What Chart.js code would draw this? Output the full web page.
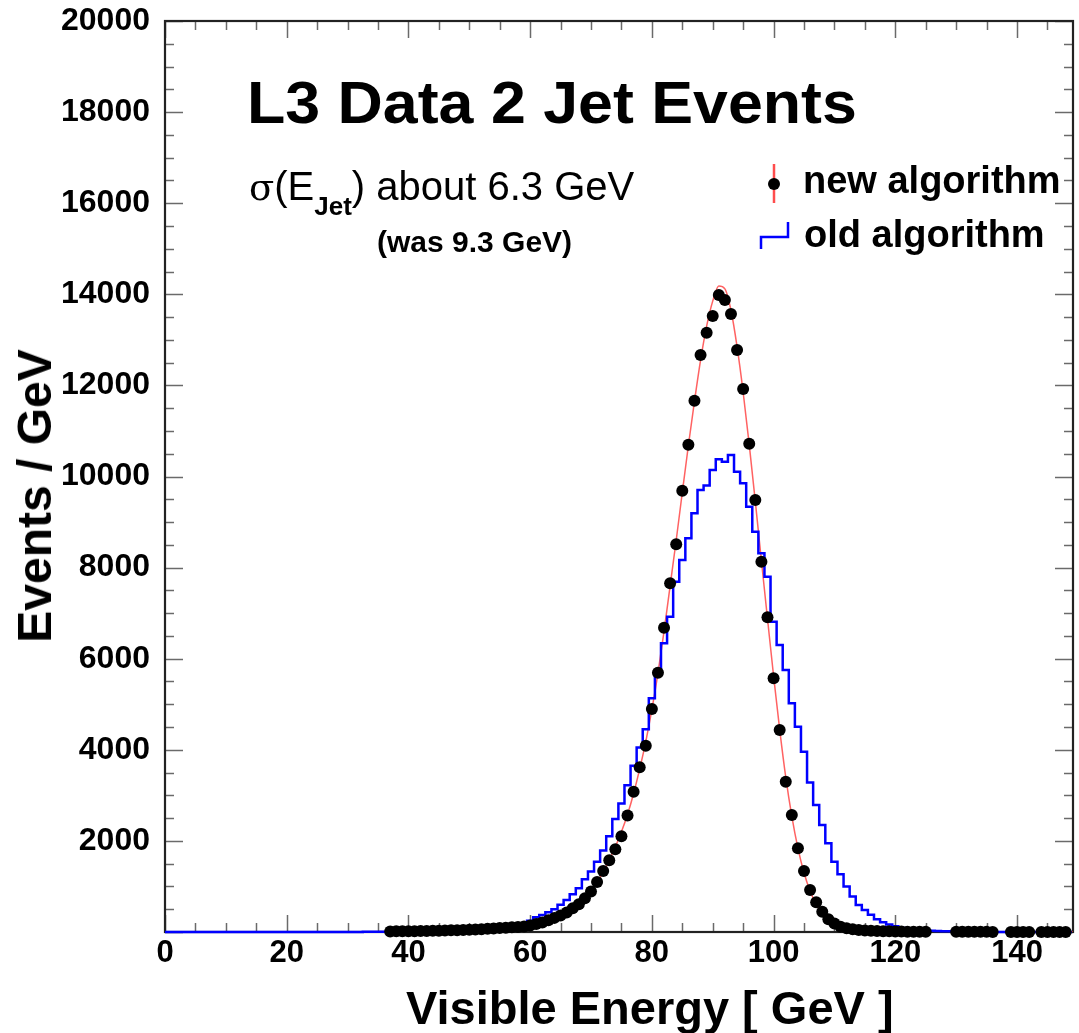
<!DOCTYPE html>
<html><head><meta charset="utf-8">
<script src="https://cdn.jsdelivr.net/npm/chart.js@4.4.0/dist/chart.umd.min.js"></script>
<style>
html,body{margin:0;padding:0;background:#fff;}
#wrap{position:relative;width:1079px;height:1033px;overflow:hidden;background:#fff;}
canvas{position:absolute;left:0;top:0;}
.t{position:absolute;white-space:nowrap;font-family:'Liberation Sans',Arial,Helvetica,sans-serif;line-height:1;color:#000;transform-origin:0 0;}
</style></head><body>
<div id="wrap">
<canvas id="c" width="1079" height="1033"></canvas>
<div class="t" style="left:247px;top:73px;font-size:60px;font-weight:bold;transform:scaleX(1.045)">L3 Data 2 Jet Events</div>
<div class="t" style="left:249px;top:166px;font-size:40px;"><span style="font-family:'DejaVu Serif',serif;font-size:37px">σ</span>(E<span style="position:relative;top:15px;font-size:26px;font-weight:bold">Jet</span>) about 6.3 GeV</div>
<div class="t" style="left:377px;top:227px;font-size:30px;font-weight:bold;">(was 9.3 GeV)</div>
<div class="t" style="left:803px;top:161px;font-size:38px;font-weight:bold;">new algorithm</div>
<div class="t" style="left:804px;top:215px;font-size:38px;font-weight:bold;">old algorithm</div>
<div class="t" style="left:35px;top:496px;font-size:48px;font-weight:bold;transform-origin:50% 50%;transform:translate(-50%,-50%) rotate(-90deg);">Events / GeV</div>
<div class="t" style="left:406px;top:984px;font-size:47px;font-weight:bold;">Visible Energy [ GeV ]</div>
</div>
<script>
// ---- data (bin centres in GeV, 1 GeV bins) ----
const energyGeV = [0,1,2,3,4,5,6,7,8,9,10,11,12,13,14,15,16,17,18,19,20,21,22,23,24,25,26,27,28,29,30,31,32,33,34,35,36,37,38,39,40,41,42,43,44,45,46,47,48,49,50,51,52,53,54,55,56,57,58,59,60,61,62,63,64,65,66,67,68,69,70,71,72,73,74,75,76,77,78,79,80,81,82,83,84,85,86,87,88,89,90,91,92,93,94,95,96,97,98,99,100,101,102,103,104,105,106,107,108,109,110,111,112,113,114,115,116,117,118,119,120,121,122,123,124,125,126,127,128,129,130,131,132,133,134,135,136,137,138,139,140,141,142,143,144,145,146,147,148,149];

// new algorithm (black points); null = empty bin
const newAlgorithm = [
 null,null,null,null,null,null,null,null,null,null,
 null,null,null,null,null,null,null,null,null,null,
 null,null,null,null,null,null,null,null,null,null,
 null,null,null,null,null,null,null,12,14,15,
 17,19,21,23,26,29,32,36,40,45,
 50,56,62,70,78,86,95,105,112,120,
 145,175,210,260,310,360,430,520,610,740,
 890,1100,1340,1575,1815,2100,2560,3080,3616,4090,
 4896,5693,6681,7655,8512,9688,10698,11664,12667,13157,
 13524,13985,13875,13568,12777,11921,10720,9484,8130,6909,
 5570,4435,3300,2569,1837,1339,922,652,446,280,
 185,117,80,60,45,35,28,22,18,14,
 12,10,8,6,5,4,null,null,null,null,
 5,4,4,3,3,3,2,null,null,2,
 2,2,2,null,2,2,1,1,1,null];

// old algorithm (blue histogram)
const oldAlgorithm = [
 0,0,0,0,0,0,0,0,0,0,
 0,0,0,0,0,0,0,0,0,0,
 0,0,0,0,0,0,0,0,0,0,
 1,2,2,3,4,5,6,8,10,12,
 14,16,18,20,22,25,28,31,35,40,
 45,52,60,68,78,90,105,125,150,190,
 249,322,373,435,500,600,700,830,960,1160,
 1330,1540,1790,2100,2480,2820,3220,3650,4050,4449,
 5130,5679,6338,6922,7691,8167,8643,9192,9704,9800,
 10143,10377,10326,10472,10106,9850,9338,8789,8313,7801,
 6813,6301,5752,5020,4508,3959,3280,2788,2349,1947,
 1544,1270,1000,780,593,483,380,280,215,165,
 125,90,70,55,45,35,28,22,18,14,
 10,8,6,5,4,3,2,2,1,1,
 1,1,1,0,0,0,0,0,0,0];

// fitted curve (red)
const fitEnergy = [0,30,40,45,50,55,58,60,61,62,63,64,65,66,67,68,69,70,71,72,73,74,75,76,77,78,79,80,81,82,83,84,85,86,87,88,89,90,91,92,93,94,95,96,97,98,99,100,101,102,103,104,105,106,107,108,109,110,111,112,113,114,116,118,120,125,130,150];
const fitValue  = [0,2,15,25,45,85,120,155,180,215,255,300,355,425,510,615,745,900,1090,1320,1580,1870,2200,2580,3040,3580,4180,4880,5680,6600,7600,8600,9650,10680,11650,12550,13300,13850,14180,14120,13650,12850,11850,10700,9450,8150,6880,5620,4450,3400,2540,1840,1300,900,610,410,270,175,115,75,50,33,15,7,3,1,0,0];

const xTickStep = 20, yTickStep = 2000;

// ---- build datasets ----
const newPts = [];
energyGeV.forEach((e,i)=>{ if(newAlgorithm[i]!==null) newPts.push({x:e,y:newAlgorithm[i]}); });
const oldPts = energyGeV.map((e,i)=>({x:e,y:oldAlgorithm[i]}));
const fitPts = fitEnergy.map((e,i)=>({x:e,y:fitValue[i]}));

const framePlugin = {
  id:'frame',
  beforeDatasetsDraw(chart){
    const {ctx, chartArea:a, scales:{x,y}} = chart;
    ctx.save();
    ctx.strokeStyle='#6a6a6a'; ctx.lineWidth=1.5;
    const ln=(x1,y1,x2,y2)=>{ctx.beginPath();ctx.moveTo(x1,y1);ctx.lineTo(x2,y2);ctx.stroke();};
    for(let v=0; v<=150; v+=5){
      const px=Math.round(x.getPixelForValue(v))+0.5; if(px>a.right-1) continue;
      const L = v%20===0 ? 17 : 9;
      ln(px,a.bottom,px,a.bottom-L); ln(px,a.top,px,a.top+L);
    }
    for(let v=0; v<=20000; v+=500){
      const py=Math.round(y.getPixelForValue(v))+0.5;
      const L = v%2000===0 ? 18 : 9;
      ln(a.left,py,a.left+L,py); ln(a.right,py,a.right-L,py);
    }
    ctx.strokeStyle='#222'; ctx.lineWidth=2.2;
    ctx.strokeRect(a.left,a.top,a.right-a.left,a.bottom-a.top);
    ctx.restore();
  },
  afterDraw(chart){
    const ctx=chart.ctx;
    ctx.save();
    // legend symbols
    ctx.strokeStyle='#ff4d4d'; ctx.lineWidth=2.5;
    ctx.beginPath(); ctx.moveTo(774,164); ctx.lineTo(774,203); ctx.stroke();
    ctx.fillStyle='#000'; ctx.beginPath(); ctx.arc(774,184,6,0,Math.PI*2); ctx.fill();
    ctx.strokeStyle='#0000ff'; ctx.lineWidth=2.5;
    ctx.beginPath(); ctx.moveTo(761,249); ctx.lineTo(761,237); ctx.lineTo(788,237); ctx.lineTo(788,222); ctx.stroke();
    ctx.restore();
  }
};

new Chart(document.getElementById('c'), {
  type:'scatter',
  data:{ datasets:[
    { label:'new algorithm', data:newPts, pointRadius:6, pointHoverRadius:6, pointBackgroundColor:'#000', pointBorderColor:'#000', pointBorderWidth:0, showLine:false, clip:false },
    { label:'old algorithm', data:oldPts, showLine:true, stepped:'middle', borderColor:'#0000ff', borderWidth:2.5, pointRadius:0, fill:false, clip:false },
    { label:'fit', data:fitPts, showLine:true, borderColor:'rgba(255,70,70,0.85)', borderWidth:1.5, pointRadius:0, cubicInterpolationMode:'monotone', fill:false }
  ]},
  options:{
    responsive:false, animation:false, devicePixelRatio:1,
    layout:{ padding:{ top:21, right:4, left:0, bottom:0 } },
    plugins:{ legend:{display:false}, tooltip:{enabled:false} },
    scales:{
      x:{ type:'linear', min:0, max:149.2,
          grid:{display:false, drawTicks:false}, border:{display:false},
          ticks:{ stepSize:xTickStep, includeBounds:false, autoSkip:false, maxRotation:0, padding:3, color:'#000',
                  font:{family:"'Liberation Sans', Arial, sans-serif", size:31, weight:'bold'} },
          afterFit(s){ s.height = 101; s.paddingLeft = 0; s.paddingRight = 0; } },
      y:{ type:'linear', min:0, max:20000,
          grid:{display:false, drawTicks:false}, border:{display:false},
          ticks:{ stepSize:yTickStep, padding:15, color:'#000',
                  callback:(v)=> v===0 ? '' : String(v),
                  font:{family:"'Liberation Sans', Arial, sans-serif", size:32, weight:'bold'} },
          afterFit(s){ s.width = 165; s.paddingTop = 0; s.paddingBottom = 0; } }
    }
  },
  plugins:[framePlugin]
});
</script>
</body></html>
